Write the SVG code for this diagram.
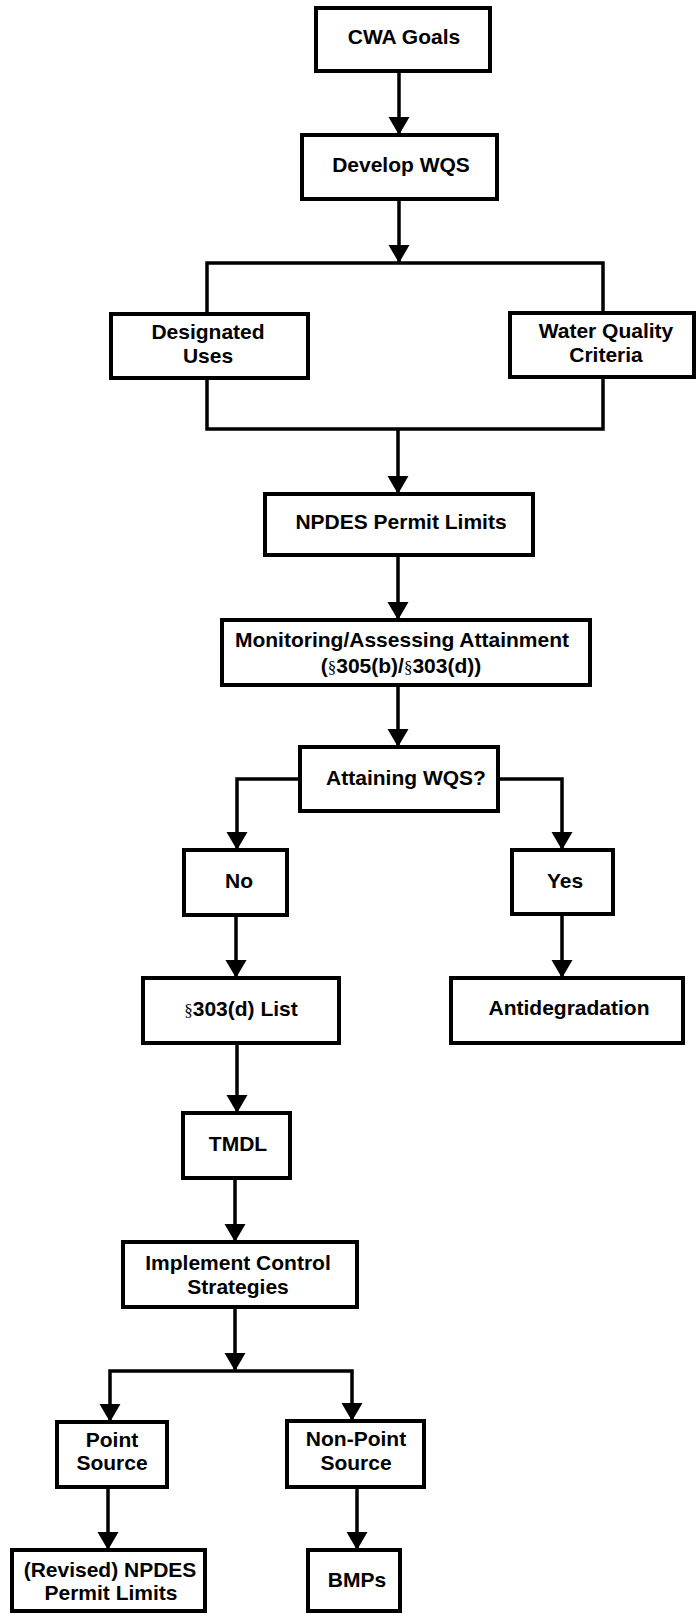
<svg xmlns="http://www.w3.org/2000/svg" width="697" height="1614" viewBox="0 0 697 1614">
<style>
.box{fill:#fff;stroke:#000;stroke-width:4}
.t{font-family:"Liberation Sans",Arial,sans-serif;font-weight:bold;font-size:21px;fill:#000;text-anchor:middle}
.sec{font-family:"Liberation Serif","Times New Roman",serif;font-weight:normal;font-size:17px}
.c{fill:none;stroke:#000;stroke-width:3.5}
.a{marker-end:url(#ah)}
</style>
<defs>
<marker id="ah" markerUnits="userSpaceOnUse" markerWidth="20" markerHeight="22" refX="18" refY="10.5" orient="auto">
<path d="M0,0 L18,10.5 L0,21 Z" fill="#000"/>
</marker>
</defs>
<rect width="697" height="1614" fill="#fff"/>
<g id="connectors">
<path class="c a" d="M399,71 V135"/>
<path class="c a" d="M399,199 V263"/>
<path class="c" d="M207,314 V263 H603 V313"/>
<path class="c" d="M207,378 V429 H603 V377"/>
<path class="c a" d="M398,429 V494"/>
<path class="c a" d="M398,555 V620"/>
<path class="c a" d="M398,685 V747"/>
<path class="c a" d="M300,779 H237 V850"/>
<path class="c a" d="M498,779 H562 V850"/>
<path class="c a" d="M236,915 V978"/>
<path class="c a" d="M562,914 V978"/>
<path class="c a" d="M237,1043 V1113"/>
<path class="c a" d="M235,1178 V1242"/>
<path class="c a" d="M235,1307 V1371"/>
<path class="c a" d="M235,1371 H110 V1422"/>
<path class="c a" d="M235,1371 H352 V1421"/>
<path class="c a" d="M108,1487 V1550"/>
<path class="c a" d="M357,1487 V1550"/>
</g>
<g id="cwa-goals"><rect class="box" x="316" y="8" width="174" height="63"/><text class="t" x="404" y="44">CWA Goals</text></g>
<g id="develop-wqs"><rect class="box" x="302" y="135" width="195" height="64"/><text class="t" x="401" y="172">Develop WQS</text></g>
<g id="designated-uses"><rect class="box" x="111" y="314" width="197" height="64"/><text class="t" x="208" y="339">Designated</text><text class="t" x="208" y="363">Uses</text></g>
<g id="water-quality-criteria"><rect class="box" x="510" y="313" width="184" height="64"/><text class="t" x="606" y="338">Water Quality</text><text class="t" x="606" y="362">Criteria</text></g>
<g id="npdes-permit-limits"><rect class="box" x="265" y="494" width="268" height="61"/><text class="t" x="401" y="529">NPDES Permit Limits</text></g>
<g id="monitoring"><rect class="box" x="222" y="620" width="368" height="65"/><text class="t" x="402" y="647">Monitoring/Assessing Attainment</text><text class="t" x="401" y="673">(<tspan class="sec">§</tspan>305(b)/<tspan class="sec">§</tspan>303(d))</text></g>
<g id="attaining-wqs"><rect class="box" x="300" y="747" width="198" height="64"/><text class="t" x="406" y="785">Attaining WQS?</text></g>
<g id="no"><rect class="box" x="184" y="850" width="103" height="65"/><text class="t" x="239" y="888">No</text></g>
<g id="yes"><rect class="box" x="512" y="850" width="101" height="64"/><text class="t" x="565" y="888">Yes</text></g>
<g id="list-303d"><rect class="box" x="143" y="978" width="196" height="65"/><text class="t" x="241" y="1016"><tspan class="sec">§</tspan>303(d) List</text></g>
<g id="antidegradation"><rect class="box" x="451" y="978" width="232" height="65"/><text class="t" x="569" y="1015">Antidegradation</text></g>
<g id="tmdl"><rect class="box" x="183" y="1113" width="107" height="65"/><text class="t" x="238" y="1151">TMDL</text></g>
<g id="implement-control-strategies"><rect class="box" x="123" y="1242" width="234" height="65"/><text class="t" x="238" y="1270">Implement Control</text><text class="t" x="238" y="1294">Strategies</text></g>
<g id="point-source"><rect class="box" x="57" y="1422" width="110" height="65"/><text class="t" x="112" y="1447">Point</text><text class="t" x="112" y="1470">Source</text></g>
<g id="non-point-source"><rect class="box" x="287" y="1421" width="137" height="66"/><text class="t" x="356" y="1446">Non-Point</text><text class="t" x="356" y="1470">Source</text></g>
<g id="revised-npdes"><rect class="box" x="12" y="1550" width="193" height="61"/><text class="t" x="110" y="1577">(Revised) NPDES</text><text class="t" x="111" y="1600">Permit Limits</text></g>
<g id="bmps"><rect class="box" x="308" y="1550" width="92" height="61"/><text class="t" x="357" y="1587">BMPs</text></g>
</svg>
